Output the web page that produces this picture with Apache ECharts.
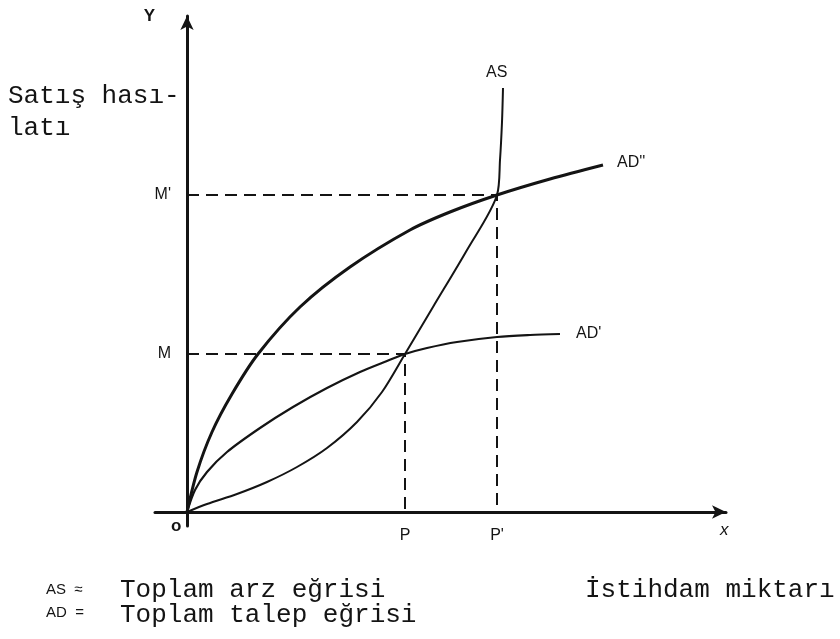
<!DOCTYPE html>
<html>
<head>
<meta charset="utf-8">
<title>Toplam arz ve talep</title>
<script src="https://cdn.jsdelivr.net/npm/echarts@6/dist/echarts.min.js"></script>
<style>
	html, body { margin: 0; padding: 0; background: #fff; }
	#chart { width: 840px; height: 639px; }
</style>
</head>
<body>
<div id="chart"></div>
<script>
	// points (x = istihdam, y = satış hasılatı)
	const asX = [0, 20, 50, 80, 110, 140, 170, 195, 218, 246, 280, 310, 313, 315, 316];
	const asY = [0, 8, 18, 30, 45, 64, 90, 120, 158, 205, 262, 317, 352, 390, 424];
	const ad1X = [0, 8, 20, 40, 73, 106, 140, 173, 200, 218, 240, 270, 310, 343, 373];
	const ad1Y = [0, 22, 40, 60, 84, 105, 124, 140, 151, 158, 164, 170, 175, 177, 178];
	const ad2X = [0, 10, 25, 45, 71, 113, 163, 223, 263, 310, 363, 416];
	const ad2Y = [0, 40, 80, 118, 158, 205, 245, 282, 300, 317, 333, 347];
	// equilibrium points (P, M) and (P', M')
	const eqX = [218, 310];
	const eqY = [158, 317];
	const xTickLabels = ['P', "P'"];
	const yTickLabels = ['M', "M'"];

	const ink = '#141414';
	const hand = '"Liberation Sans", sans-serif';
	const typewriter = '"Liberation Mono", monospace';

	function pairs(xs, ys) {
		return xs.map(function (x, i) { return [x, ys[i]]; });
	}

	let chart = echarts.init(document.getElementById('chart'), null, { renderer: 'canvas' });

	// dashed guides from each axis to the equilibrium point
	let guides = eqX.map(function (x, i) {
		return {
			type: 'line',
			silent: true,
			symbol: 'none',
			data: [[0, eqY[i]], [x, eqY[i]], [x, 0]],
			lineStyle: { color: ink, width: 2, type: [12, 7] },
			z: 1
		};
	});

	let option = {
		backgroundColor: '#fff',
		animation: false,
		grid: { left: 155, right: 114, top: 16, bottom: 113, outerBoundsMode: 'none' },
		xAxis: {
			type: 'value',
			min: -32,
			max: 539,
			name: 'x',
			nameLocation: 'end',
			nameGap: -6,
			nameTextStyle: { color: ink, fontFamily: hand, fontSize: 17, fontStyle: 'italic', verticalAlign: 'top', padding: [10, 0, 0, 0] },
			axisLine: { onZero: true, lineStyle: { color: ink, width: 3 }, symbol: ['none', 'arrow'], symbolSize: [10, 14] },
			axisTick: { show: false },
			splitLine: { show: false },
			axisLabel: {
				customValues: eqX,
				margin: 2,
				color: ink,
				fontFamily: hand,
				fontSize: 16,
				formatter: function (v) { return xTickLabels[eqX.indexOf(v)]; }
			}
		},
		yAxis: {
			type: 'value',
			min: -14,
			max: 496,
			name: 'Y',
			nameLocation: 'end',
			nameGap: 0,
			nameTextStyle: { color: ink, fontFamily: hand, fontSize: 17, fontWeight: 'bold', align: 'right', verticalAlign: 'middle', padding: [0, 32, 0, 0] },
			axisLine: { onZero: true, lineStyle: { color: ink, width: 3 }, symbol: ['none', 'arrow'], symbolSize: [10, 14] },
			axisTick: { show: false },
			splitLine: { show: false },
			axisLabel: {
				customValues: eqY,
				margin: -16,
				color: ink,
				fontFamily: hand,
				fontSize: 16,
				formatter: function (v) { return yTickLabels[eqY.indexOf(v)]; }
			}
		},
		series: guides.concat([
			{
				name: 'AS',
				type: 'line',
				symbol: 'none',
				smooth: 0.3,
				data: pairs(asX, asY),
				lineStyle: { color: ink, width: 2 },
				endLabel: { show: true, formatter: 'AS', color: ink, fontFamily: hand, fontSize: 16, offset: [-25, -15] },
				z: 3
			},
			{
				name: "AD'",
				type: 'line',
				symbol: 'none',
				smooth: 0.3,
				data: pairs(ad1X, ad1Y),
				lineStyle: { color: ink, width: 2.2 },
				endLabel: { show: true, formatter: "AD'", color: ink, fontFamily: hand, fontSize: 16, offset: [8, 0] },
				z: 3
			},
			{
				name: "AD''",
				type: 'line',
				symbol: 'none',
				smooth: 0.3,
				data: pairs(ad2X, ad2Y),
				lineStyle: { color: ink, width: 3 },
				endLabel: { show: true, formatter: "AD''", color: ink, fontFamily: hand, fontSize: 16, offset: [6, -2] },
				z: 3
			}
		]),
		graphic: [
			{ type: 'text', left: 8, top: 80, style: { text: 'Satış hası-\nlatı', font: '26px ' + typewriter, lineHeight: 32, fill: ink } },
			{ type: 'text', left: 171, top: 518, style: { text: 'o', font: 'bold 17px ' + hand, fill: ink } },
			{ type: 'text', left: 46, top: 582, style: { text: 'AS  ≈', font: '15px ' + hand, fill: ink } },
			{ type: 'text', left: 46, top: 605, style: { text: 'AD  =', font: '15px ' + hand, fill: ink } },
			{ type: 'text', left: 120, top: 577, style: { text: 'Toplam arz eğrisi\nToplam talep eğrisi', font: '26px ' + typewriter, lineHeight: 25, fill: ink } },
			{ type: 'text', left: 585, top: 577, style: { text: 'İstihdam miktarı', font: '26px ' + typewriter, lineHeight: 25, fill: ink } }
		]
	};

	chart.setOption(option);

	window.addEventListener('resize', function () {
		chart.resize();
	});
</script>
</body>
</html>
